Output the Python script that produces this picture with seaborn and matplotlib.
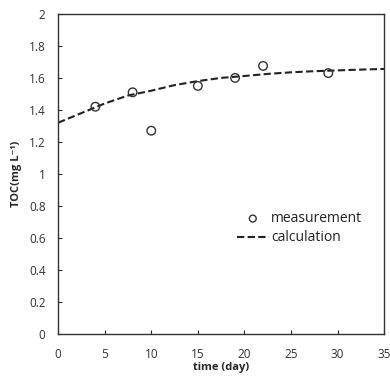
import numpy as np
import pandas as pd
import matplotlib
matplotlib.use("Agg")
import matplotlib.pyplot as plt
import seaborn as sns

# measured TOC
meas_day = [4, 8, 10, 15, 19, 22, 29]
meas_toc = [1.42, 1.51, 1.27, 1.55, 1.60, 1.675, 1.63]

# calculated curve
calc_day = [0, 2.5, 5, 7.5, 10, 12.5, 15, 17.5, 20, 22.5, 25, 27.5, 30, 32.5, 35]
calc_toc = [1.32, 1.38, 1.44, 1.49, 1.52, 1.555, 1.58, 1.60, 1.612, 1.625, 1.635, 1.642, 1.647, 1.652, 1.656]

x_ticks = [0, 5, 10, 15, 20, 25, 30, 35]
y_ticks = [0, 0.2, 0.4, 0.6, 0.8, 1, 1.2, 1.4, 1.6, 1.8, 2]

sns.set_style("ticks")
plt.rcParams["font.family"] = ["Open Sans", "DejaVu Sans"]

df_meas = pd.DataFrame({"day": meas_day, "toc": meas_toc})
df_calc = pd.DataFrame({"day": calc_day, "toc": calc_toc})

fig = plt.figure(figsize=(3.9, 3.76), dpi=100)
ax = fig.add_axes([0.149, 0.112, 0.836, 0.851])

sns.lineplot(data=df_calc, x="day", y="toc", ax=ax, color="#222222",
             linewidth=1.5, label="calculation")
ax.lines[0].set_dashes([3.5, 1.6])
sns.scatterplot(data=df_meas, x="day", y="toc", ax=ax, marker="o",
                s=38, facecolor="none", edgecolor="#333333", linewidth=1.0,
                label="measurement", zorder=3)

ax.set_xlim(0, 35)
ax.set_ylim(0, 2)
ax.set_xticks(x_ticks)
ax.set_yticks(y_ticks)
ax.set_yticklabels([f"{v:g}" for v in y_ticks])
ax.tick_params(direction="in", length=3, width=0.8, labelsize=8.5,
               labelcolor="#333333")
ax.tick_params(axis="y", pad=9)
ax.tick_params(axis="x", pad=10)
for s in ax.spines.values():
    s.set_visible(True)
    s.set_linewidth(1.0)
    s.set_color("#333333")

ax.set_xlabel("time (day)", fontsize=8, fontweight="bold", labelpad=1)
ax.set_ylabel("TOC(mg L⁻¹)", fontsize=8, fontweight="bold", labelpad=5)

h, l = ax.get_legend_handles_labels()
leg = ax.legend(h[::-1], l[::-1], loc="center", bbox_to_anchor=(0.74, 0.33),
                frameon=False, fontsize=10, handlelength=2.3,
                handletextpad=0.15, labelspacing=0.3, markerscale=0.8)
for t in leg.get_texts():
    t.set_color("#222222")

fig.savefig("out.png", dpi=100)
